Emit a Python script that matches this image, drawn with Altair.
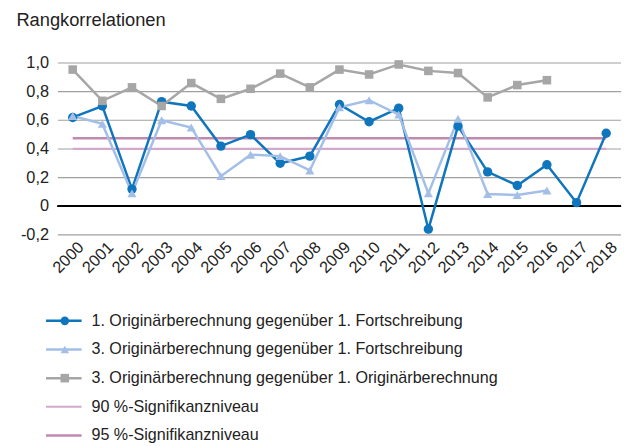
import altair as alt
import pandas as pd

years = [str(y) for y in range(2000, 2019)]
s1 = [0.62, 0.70, 0.12, 0.73, 0.70, 0.42, 0.50, 0.30, 0.35, 0.71, 0.59, 0.685, -0.16, 0.56, 0.24, 0.145, 0.29, 0.025, 0.51]
s2 = [0.63, 0.575, 0.09, 0.60, 0.55, 0.21, 0.36, 0.35, 0.25, 0.69, 0.74, 0.64, 0.09, 0.61, 0.085, 0.078, 0.11, None, None]
s3 = [0.954, 0.736, 0.83, 0.70, 0.86, 0.75, 0.82, 0.926, 0.83, 0.954, 0.92, 0.99, 0.945, 0.93, 0.76, 0.846, 0.88, None, None]
sig90 = 0.40
sig95 = 0.474

tick_values = [-0.2, 0.0, 0.2, 0.4, 0.6, 0.8, 1.0]
tick_labels = ["-0,2", "0", "0,2", "0,4", "0,6", "0,8", "1,0"]

names = [
    "1. Originärberechnung gegenüber 1. Fortschreibung",
    "3. Originärberechnung gegenüber 1. Fortschreibung",
    "3. Originärberechnung gegenüber 1. Originärberechnung",
    "90 %-Signifikanzniveau",
    "95 %-Signifikanzniveau",
]
colors = ["#0f75bc", "#a3bfe8", "#a6a6a6", "#d4a8cb", "#c08aae"]
shapes = ["circle", "triangle-up", "square"]
FONT = "Liberation Sans"

rows = []
for i, vals in enumerate([s1, s2, s3]):
    for y, v in zip(years, vals):
        if v is not None:
            rows.append({"year": y, "value": v, "series": i})
df = pd.DataFrame(rows)
sig_df = pd.DataFrame({"year": years})
tick_df = pd.DataFrame({"v": tick_values, "lab": tick_labels})

xenc = alt.X("year:O", scale=alt.Scale(type="band", paddingInner=0, paddingOuter=0),
             axis=alt.Axis(labelAngle=-45, ticks=False, domain=False, labelFontSize=16.5,
                           labelFont=FONT, labelColor="#222", labelPadding=4, labelOffset=3,
                           labelOverlap=False, title=None))
yscale = alt.Scale(domain=[-0.2, 1.0], nice=False, zero=False)
yaxis = alt.Axis(values=[1.0], labels=False, ticks=False, domain=False, grid=False,
                 title="Rangkorrelationen", titleAngle=0, titleAlign="left", titleBaseline="top",
                 titleX=-42.5, titleY=-53, titleFont=FONT, titleFontSize=18.5, titleFontWeight="normal",
                 titleColor="#222")

grid = alt.Chart(tick_df[tick_df.v != 0]).mark_rule(color="#a0a0a0", strokeWidth=1.1).encode(
    y=alt.Y("v:Q", scale=yscale, axis=yaxis))
ylabels = alt.Chart(tick_df).mark_text(align="right", baseline="middle", font=FONT, fontSize=16.5,
                                       color="#222").encode(
    x=alt.value(-9), y=alt.Y("v:Q"), text="lab:N")
zero = alt.Chart(sig_df).mark_rule(color="black", strokeWidth=1.5).encode(y=alt.Y(datum=0))
lines = []
for i in range(3):
    d = df[df.series == i]
    lines.append(
        alt.Chart(d).mark_line(color=colors[i], strokeWidth=2.5).encode(
            x=xenc, y=alt.Y("value:Q"))
    )
sig_lines = [
    alt.Chart(sig_df).mark_line(color=colors[3], strokeWidth=2.2).encode(x=xenc, y=alt.Y(datum=sig90)),
    alt.Chart(sig_df).mark_line(color=colors[4], strokeWidth=2.5).encode(x=xenc, y=alt.Y(datum=sig95)),
]
pts = []
for i in range(3):
    d = df[df.series == i]
    pts.append(
        alt.Chart(d).mark_point(color=colors[i], filled=True, opacity=1, shape=shapes[i],
                                size=[90, 85, 75][i]).encode(
            x=xenc, y=alt.Y("value:Q"))
    )

top = alt.layer(grid, ylabels, zero, *sig_lines, *lines, *pts).properties(width=570, height=174)

leg_df = pd.DataFrame({"label": names, "row": list(range(5)), "color": colors,
                       "width": [2.5, 2.5, 2.5, 2.0, 2.5]})
yleg = alt.Y("row:O", scale=alt.Scale(type="point", padding=0), axis=None)
leg_rule = alt.Chart(leg_df).mark_rule().encode(
    x=alt.value(-12), x2=alt.value(24), y=yleg,
    color=alt.Color("color:N", scale=None), strokeWidth=alt.StrokeWidth("width:Q", scale=None))
leg_pts = alt.Chart(leg_df[leg_df.row < 3]).mark_point(filled=True, opacity=1, size=75).encode(
    x=alt.value(7), y=yleg, color=alt.Color("color:N", scale=None),
    shape=alt.Shape("row:O", scale=alt.Scale(domain=[0, 1, 2], range=shapes), legend=None))
leg_txt = alt.Chart(leg_df).mark_text(align="left", baseline="middle", font=FONT, fontSize=16.3, color="#222").encode(
    x=alt.value(34), y=yleg, text="label:N")
legend = alt.layer(leg_rule, leg_pts, leg_txt).properties(width=570, height=116)

chart = alt.vconcat(top, legend, spacing=37).properties(
    padding={"left": 7.5, "top": 0, "right": 0, "bottom": 0}).configure_view(stroke=None)
chart.save("out.html", embed_options={"renderer": "svg", "actions": False})
